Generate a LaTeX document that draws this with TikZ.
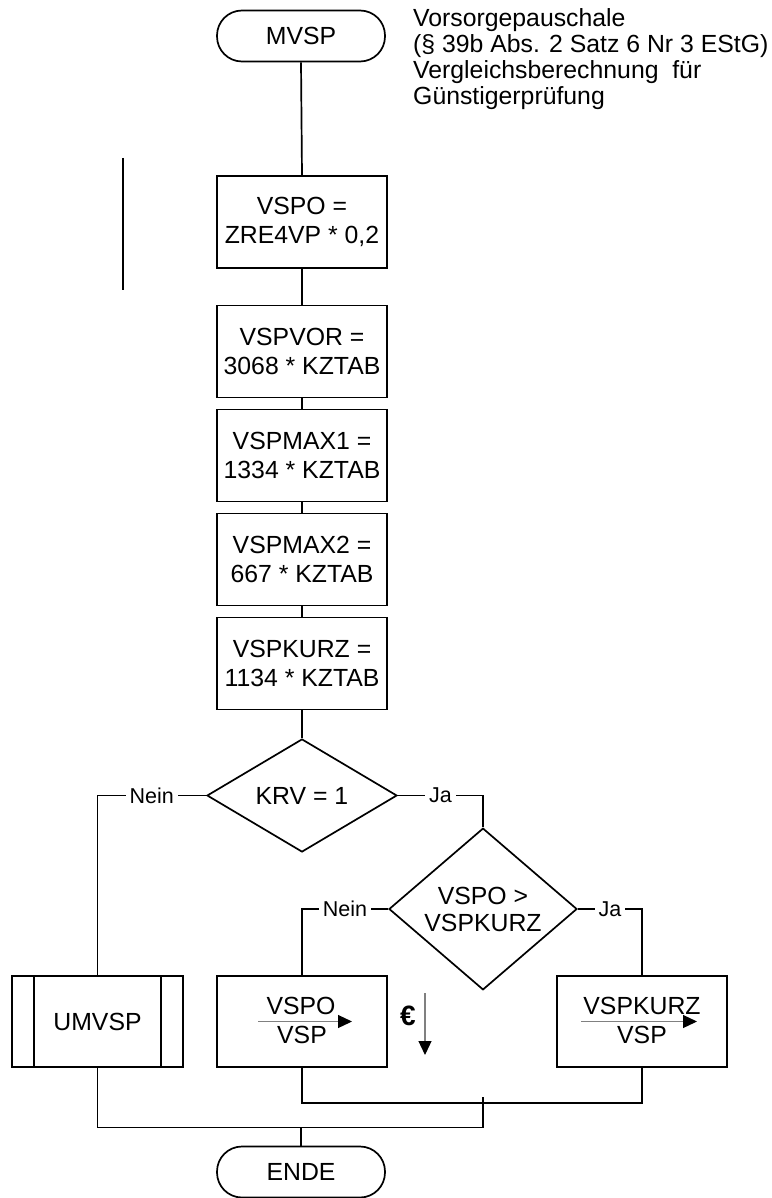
\documentclass[tikz,border=0pt]{standalone}
\usepackage{fontspec}
\setmainfont{Liberation Sans}
\usetikzlibrary{shapes.geometric,arrows.meta}
\begin{document}
\begin{tikzpicture}[x=1pt,y=-1pt,
  every node/.style={font=\fontsize{24.8}{29}\selectfont},
  line/.style={line width=1.7pt,draw=black},
  term/.style={draw,line width=1.7pt,rounded corners=25pt,minimum width=168pt,minimum height=51pt,inner sep=0pt},
  proc/.style={draw,line width=1.7pt,minimum width=170pt,minimum height=92pt,align=center,inner sep=0pt},
  dec/.style={draw,line width=1.7pt,diamond,minimum width=190pt,minimum height=113pt,inner sep=0pt,align=center,font=\fontsize{24.8}{27}\selectfont},
  lbl/.style={fill=white,inner xsep=4pt,inner ysep=1pt,font=\fontsize{21.5}{24}\selectfont},
  note/.style={anchor=base west,inner sep=0pt},
  inarrow/.style={draw=gray,line width=1.2pt,-{Triangle[length=14pt,width=13pt,color=black]}}
]
\useasboundingbox (0,0) rectangle (771,1198);

% header
\node[term] (mvsp) at (301,36) {MVSP};
\node[note] (t1) at (413,27) {Vorsorgepauschale};
\node[note] (t2) at (413,53) {(§ 39b Abs. 2 Satz 6 Nr 3 EStG)};
\node[note] (t3) at (413,79) {Vergleichsberechnung\ \ für};
\node[note] (t4) at (413,105) {Günstigerprüfung};

% side bar
\coordinate (bar1) at (123,158);
\coordinate (bar2) at (123,290);
\draw[line width=2.6pt] (bar1) -- (bar2);

% stack
\node[proc] (vspo) at (302,222) {VSPO =\\ZRE4VP * 0,2};
\node[proc] (vspvor) at (302,351.5) {VSPVOR =\\3068 * KZTAB};
\node[proc] (max1) at (302,455.5) {VSPMAX1 =\\1334 * KZTAB};
\node[proc] (max2) at (302,559.5) {VSPMAX2 =\\667 * KZTAB};
\node[proc] (kurz) at (302,663.5) {VSPKURZ =\\1134 * KZTAB};
\node[dec] (krv) at (302,795.5) {KRV = 1};
\node[dec,minimum width=188pt,minimum height=112pt] (d2) at (483,909) {VSPO >\\VSPKURZ};

% bottom boxes
\node[proc,minimum width=171pt,minimum height=91pt] (umvsp) at (97.5,1021.5) {UMVSP};
\draw[line width=1.7pt] ([xshift=23pt]umvsp.north west) -- ([xshift=23pt]umvsp.south west);
\draw[line width=1.7pt] ([xshift=-23pt]umvsp.north east) -- ([xshift=-23pt]umvsp.south east);

\node[proc,minimum height=91pt] (bvspo) at (302,1021.5) {};
\node[inner sep=0pt] (bvspoa) at (301,1006) {VSPO};
\node[inner sep=0pt] (bvspob) at (302,1035) {VSP};
\draw[inarrow] ([xshift=-44pt]bvspo.center) -- ([xshift=50pt]bvspo.center);

\node[proc,minimum height=91pt] (bkurz) at (642,1021.5) {};
\node[inner sep=0pt] (bkurza) at (642,1006) {VSPKURZ};
\node[inner sep=0pt] (bkurzb) at (642,1035) {VSP};
\draw[inarrow] ([xshift=-61pt]bkurz.center) -- ([xshift=55pt]bkurz.center);

% euro marker
\node[inner sep=0pt,font=\fontsize{28}{30}\selectfont\bfseries] (euro) at (408,1016) {€};
\coordinate (ea1) at (425,993);
\coordinate (ea2) at (425,1055);
\draw[inarrow] (ea1) -- (ea2);

\node[term] (ende) at (301,1172) {ENDE};

% connectors
\draw[line] (mvsp.south) -- (vspo.north);
\draw[line] (vspo.south) -- (vspvor.north);
\draw[line] (vspvor.south) -- (max1.north);
\draw[line] (max1.south) -- (max2.north);
\draw[line] (max2.south) -- (kurz.north);
\draw[line] (kurz.south) -- (krv.north);
\draw[line] (krv.west) -| node[lbl,pos=0.25] {Nein} (umvsp.north);
\draw[line] (krv.east) -| node[lbl,pos=0.25] {Ja} (d2.north);
\draw[line] (d2.west) -| node[lbl,pos=0.25] {Nein} (bvspo.north);
\draw[line] (d2.east) -| node[lbl,pos=0.25] {Ja} (bkurz.north);

\coordinate (jtop) at (483,1097);
\coordinate (jbot) at (483,1127.5);
\draw[line] (bvspo.south) -- ++(0,35) -| (bkurz.south);
\draw[line] (jtop) -- (jbot);
\draw[line] (umvsp.south) |- (jbot);
\draw[line] (jbot -| ende.north) -- (ende.north);
\end{tikzpicture}
\end{document}
